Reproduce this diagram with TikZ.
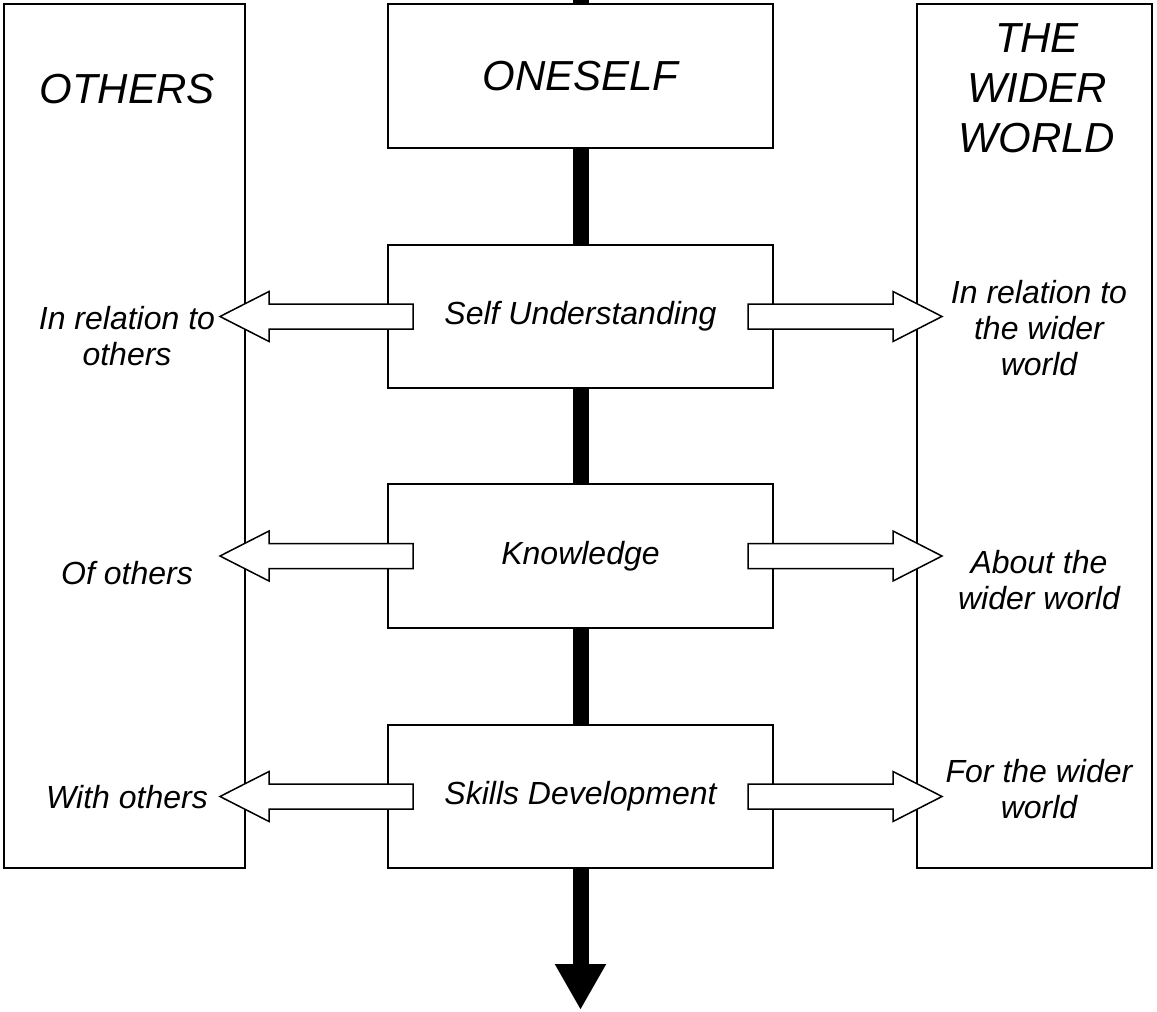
\documentclass[tikz,border=0pt]{standalone}
\usepackage{fontspec}
\setmainfont{Liberation Sans}
\usetikzlibrary{calc,arrows.meta}
\newcommand\bigtxt{\fontsize{42}{50}\selectfont\itshape}
\newcommand\smalltxt{\fontsize{32}{36}\selectfont\itshape}
\tikzset{
  sidebox/.style={draw, line width=1.8pt, fill=white, inner sep=0pt, outer sep=0pt},
  cbox/.style={draw, line width=1.8pt, fill=white, inner sep=0pt, outer sep=0pt, minimum width=385pt},
  lbl/.style={inner sep=0pt, outer sep=0pt},
  big/.style={font=\bigtxt},
  small/.style={font=\smalltxt},
  stem/.style={line width=16pt, black},
  hollow/.style={draw=black, fill=white, line width=1.5pt, line join=miter},
}
% #1 shaft start, #2 tip, #3 x offset of head base from tip
\newcommand\blockarr[3]{%
  \draw[hollow] ($(#1)+(0,12.5)$) -- ($(#2)+(#3,12.5)$) -- ($(#2)+(#3,25)$) -- (#2)
    -- ($(#2)+(#3,-25)$) -- ($(#2)+(#3,-12.5)$) -- ($(#1)+(0,-12.5)$) -- cycle;}
\begin{document}
\begin{tikzpicture}[x=1pt, y=-1pt]
\useasboundingbox (0,0) rectangle (1157,1012);
\fill[white] (0,0) rectangle (1157,1012);

% side boxes
\node[sidebox, minimum width=241pt, minimum height=864pt] (others) at (124.5,436) {};
\node[sidebox, minimum width=235pt, minimum height=864pt] (world) at (1034.5,436) {};

% central boxes
\node[cbox, big, minimum height=144pt] (self) at (580.5,76) {ONESELF};
\node[cbox, small, minimum height=143pt] (su) at (580.5,316.5) {Self Understanding};
\node[cbox, small, minimum height=144pt] (kn) at (580.5,556) {Knowledge};
\node[cbox, small, minimum height=143pt] (sd) at (580.5,796.5) {Skills Development};

% stems
\coordinate (topend) at (580.5,0);
\coordinate (botend) at (580.5,1010);
\draw[stem] (self.north) -- (topend);
\draw[stem] (self.south) -- (su.north);
\draw[stem] (su.south) -- (kn.north);
\draw[stem] (kn.south) -- (sd.north);
\draw[stem, -{Triangle[width=48pt, length=46pt]}] (sd.south) -- (botend);

% side labels
\node[lbl, big, anchor=base] (othersT) at (127,103) {OTHERS};
\node[lbl, big, align=center] (worldT) at (1037,88) {THE\\WIDER\\WORLD};
\node[lbl, small, align=center] (l1) at (127,336) {In relation to\\others};
\node[lbl, small, align=center] (r1) at (1039,328) {In relation to\\the wider\\world};
\node[lbl, small] (l2) at (127,573.5) {Of others};
\node[lbl, small, align=center] (r2) at (1039,580) {About the\\wider world};
\node[lbl, small] (l3) at (127,797) {With others};
\node[lbl, small, align=center] (r3) at (1039,789) {For the wider\\world};

% hollow arrows
\coordinate (suL) at ($(su.west)+(25,0)$);
\coordinate (suR) at ($(su.east)+(-25,0)$);
\coordinate (knL) at ($(kn.west)+(25,0)$);
\coordinate (knR) at ($(kn.east)+(-25,0)$);
\coordinate (sdL) at ($(sd.west)+(25,0)$);
\coordinate (sdR) at ($(sd.east)+(-25,0)$);
\coordinate (oth1) at ($(others.east |- su.west)+(-25,0)$);
\coordinate (oth2) at ($(others.east |- kn.west)+(-25,0)$);
\coordinate (oth3) at ($(others.east |- sd.west)+(-25,0)$);
\coordinate (wor1) at ($(world.west |- su.east)+(25,0)$);
\coordinate (wor2) at ($(world.west |- kn.east)+(25,0)$);
\coordinate (wor3) at ($(world.west |- sd.east)+(25,0)$);
\blockarr{suL}{oth1}{49}
\blockarr{suR}{wor1}{-49}
\blockarr{knL}{oth2}{49}
\blockarr{knR}{wor2}{-49}
\blockarr{sdL}{oth3}{49}
\blockarr{sdR}{wor3}{-49}
\end{tikzpicture}
\end{document}
